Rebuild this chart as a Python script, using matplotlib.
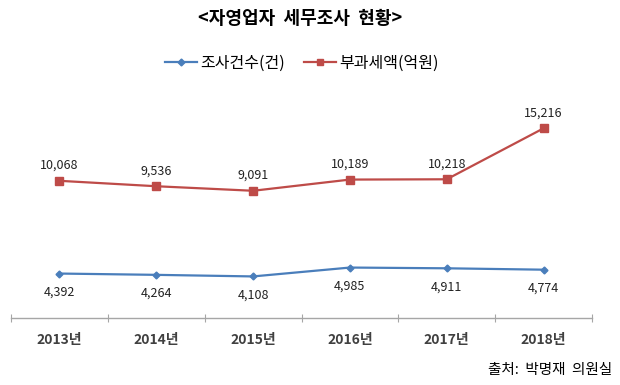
import matplotlib
matplotlib.use("Agg")
import matplotlib.pyplot as plt
from matplotlib.lines import Line2D

plt.rcParams['font.family'] = ['Noto Sans CJK KR', 'DejaVu Sans']

years = ['2013년', '2014년', '2015년', '2016년', '2017년', '2018년']
counts = [4392, 4264, 4108, 4985, 4911, 4774]
amounts = [10068, 9536, 9091, 10189, 10218, 15216]
title = '<자영업자  세무조사  현황>'
series_names = ['조사건수(건)', '부과세액(억원)']
source = '출처:  박명재  의원실'

blue = '#4A7EBB'
red = '#BE4B48'

fig = plt.figure(figsize=(6.2, 3.85), dpi=100)
ax = fig.add_axes([11/620, 1-318/385, (592-11)/620, (318-65)/385])
ax2 = ax.twinx()

x = list(range(len(years)))
ax.plot(x, counts, color=blue, lw=1.6, marker='D', ms=3.5, mfc=blue, mec=blue)
ax2.plot(x, amounts, color=red, lw=1.6, marker='s', ms=6, mfc=red, mec=red)

ax.set_xlim(-0.5, len(years) - 0.5)
ax.set_ylim(0, 25000)
ax2.set_ylim(-3382, 21422)

for xi, v in zip(x, counts):
    ax.annotate(f'{v:,}', (xi, v), xytext=(0, -13.5), textcoords='offset points',
                ha='center', va='center', fontsize=9, color='#222222')
for xi, v in zip(x, amounts):
    ax2.annotate(f'{v:,}', (xi, v), xytext=(0, 11), textcoords='offset points',
                 ha='center', va='center', fontsize=9, color='#222222')

for a in (ax, ax2):
    for s in ('top', 'left', 'right'):
        a.spines[s].set_visible(False)
    a.set_yticks([])
ax2.spines['bottom'].set_visible(False)
ax.spines['bottom'].set_color('#A6A6A6')
ax.spines['bottom'].set_linewidth(1.0)

ax.set_xticks([i - 0.5 for i in range(len(years) + 1)], minor=False)
ax.set_xticklabels([])
ax.tick_params(axis='x', which='major', direction='inout', length=6, color='#A6A6A6')
ax.set_xticks(x, minor=True)
ax.set_xticklabels(years, minor=True, fontsize=10, fontweight='bold', color='#404040')
ax.tick_params(axis='x', which='minor', length=0, pad=11)

fig.text(300/620, 1-18/385, title, ha='center', va='center', fontsize=13, fontweight='bold')

handles = [Line2D([], [], color=blue, lw=1.6, marker='D', ms=3.5),
           Line2D([], [], color=red, lw=1.6, marker='s', ms=5)]
fig.legend(handles, series_names, loc='center', bbox_to_anchor=(302/620, 1-63/385),
           ncol=2, frameon=False, fontsize=11.5, handlelength=2.0, handletextpad=0.2,
           columnspacing=1.2)

fig.text(612/620, 1-370/385, source, ha='right', va='center', fontsize=10.5)

fig.savefig('out.png', dpi=100)
